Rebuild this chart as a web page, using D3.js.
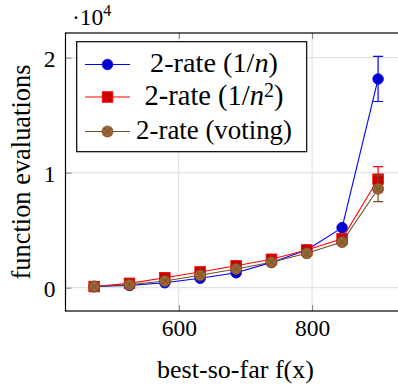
<!DOCTYPE html>
<html><head><meta charset="utf-8">
<script src="https://cdn.jsdelivr.net/npm/d3@7"></script>
<style>body{margin:0;background:#fff}svg{display:block}</style>
</head><body>
<script>
const xValues = [473, 526, 579, 632, 686, 739, 792, 845, 899];
const seriesNames = ["2-rate (1/n)", "2-rate (1/n²)", "2-rate (voting)"];
const blueValues = [100, 200, 430, 820, 1300, 2200, 3280, 5220, 18150];
const redValues = [100, 380, 870, 1370, 1910, 2470, 3280, 4260, 9430];
const brownValues = [100, 260, 580, 1080, 1630, 2210, 2990, 3970, 8610];
const blueErr = [0, 0, 0, 0, 0, 0, 0, 0, 1960];
const redErr = [0, 0, 0, 0, 0, 0, 0, 0, 1090];
const brownErr = [0, 0, 0, 0, 0, 0, 0, 0, 1130];
const xTicks = [600, 800];
const yTicks = [0, 10000, 20000];

const FONT = "Liberation Serif";
const W = 398, H = 385;
const svg = d3.select("body").append("svg").attr("width", W).attr("height", H).attr("font-family", FONT);
const L = 65.5, T = 33, B = 311;
const x = d3.scaleLinear().domain([430, 940]).range([L, L + 510 * (133.3 / 200)]);
const y = d3.scaleLinear().domain([-2026, 22148]).range([B, T]);
const R = x.range()[1];

function fit(t, target) {
  t.attr("font-size", 20);
  const w = t.node().getComputedTextLength();
  t.attr("font-size", 20 * target / w);
}

// grid
const g = svg.append("g");
g.selectAll(".gx").data(xTicks).join("line").attr("x1", d => x(d)).attr("x2", d => x(d))
  .attr("y1", T).attr("y2", B).attr("stroke", "#dcdcdc").attr("stroke-width", 1);
g.selectAll(".gy").data(yTicks).join("line").attr("y1", d => y(d)).attr("y2", d => y(d))
  .attr("x1", L).attr("x2", R).attr("stroke", "#dcdcdc").attr("stroke-width", 1);

// axes via d3
const ax = svg.append("g").attr("transform", `translate(0,${B})`)
  .call(d3.axisBottom(x).tickValues(xTicks).tickSizeInner(-6).tickSizeOuter(0).tickPadding(25).tickFormat(d3.format("d")));
const axT = svg.append("g").attr("transform", `translate(0,${T})`)
  .call(d3.axisTop(x).tickValues(xTicks).tickSizeInner(-6).tickSizeOuter(0).tickFormat(""));
const ay = svg.append("g").attr("transform", `translate(${L},0)`)
  .call(d3.axisLeft(y).tickValues(yTicks).tickSizeInner(-6).tickSizeOuter(0).tickPadding(10).tickFormat(d => d / 10000));
const ayR = svg.append("g").attr("transform", `translate(${R},0)`)
  .call(d3.axisRight(y).tickValues(yTicks).tickSizeInner(-6).tickSizeOuter(0).tickFormat(""));
[ax, axT, ay, ayR].forEach(a => {
  a.attr("font-family", FONT).attr("font-size", 23.5);
  a.select(".domain").remove();
  a.selectAll(".tick line").attr("stroke", "#808080").attr("stroke-width", 1);
  a.selectAll("text").attr("font-family", FONT).attr("font-size", 23.5).attr("fill", "#000");
});
ax.selectAll("text").attr("dy", "0");
ay.selectAll("text").attr("dy", "0.36em");
// frame
svg.append("rect").attr("x", L).attr("y", T).attr("width", R - L).attr("height", B - T)
  .attr("fill", "none").attr("stroke", "#000").attr("stroke-width", 1.2);

// scale label
const sl = svg.append("text").attr("x", 72).attr("y", 25).attr("font-family", FONT).attr("font-size", 23.5);
sl.append("tspan").text("·10");
sl.append("tspan").attr("dy", -9).attr("font-size", 16).text("4");

// axis labels
const xl = svg.append("text").attr("x", 235.5).attr("y", 378).attr("font-family", FONT).attr("text-anchor", "middle").text("best-so-far f(x)");
fit(xl, 157);
const yl = svg.append("text").attr("transform", `translate(30,${(T + B) / 2}) rotate(-90)`).attr("font-family", FONT).attr("text-anchor", "middle").text("function evaluations");
fit(yl, 215);

const series = [
  {vals: blueValues, err: blueErr, stroke: "#0000ff", fill: "#0000cc", mark: "circle"},
  {vals: redValues, err: redErr, stroke: "#ff0000", fill: "#cc0000", mark: "square"},
  {vals: brownValues, err: brownErr, stroke: "#734d26", fill: "#996633", mark: "otimes"}
];
function drawMark(sel, s, cx, cy) {
  if (s.mark === "circle") {
    sel.append("circle").attr("cx", cx).attr("cy", cy).attr("r", 5.3).attr("fill", s.fill).attr("stroke", s.stroke).attr("stroke-width", 0.8);
  } else if (s.mark === "square") {
    sel.append("rect").attr("x", cx - 5.3).attr("y", cy - 5.3).attr("width", 10.6).attr("height", 10.6).attr("fill", s.fill).attr("stroke", s.stroke).attr("stroke-width", 0.8);
  } else {
    const r = 5.5;
    sel.append("circle").attr("cx", cx).attr("cy", cy).attr("r", r).attr("fill", s.fill).attr("stroke", s.stroke).attr("stroke-width", 0.8);
    const k = r * Math.SQRT1_2;
    sel.append("path").attr("d", `M${cx - k},${cy - k}L${cx + k},${cy + k}M${cx - k},${cy + k}L${cx + k},${cy - k}`)
      .attr("stroke", s.stroke).attr("stroke-width", 0.8);
  }
}
const line = d3.line().x((d, i) => x(xValues[i])).y(d => y(d));
series.forEach(s => {
  const sg = svg.append("g");
  sg.append("path").attr("d", line(s.vals)).attr("fill", "none").attr("stroke", s.stroke).attr("stroke-width", 1.1);
  s.vals.forEach((v, i) => {
    const e = s.err[i];
    if (e > 0) {
      const cx = x(xValues[i]);
      sg.append("path").attr("d", `M${cx},${y(v - e)}L${cx},${y(v + e)}M${cx - 5},${y(v - e)}L${cx + 5},${y(v - e)}M${cx - 5},${y(v + e)}L${cx + 5},${y(v + e)}`)
        .attr("stroke", s.stroke).attr("stroke-width", 1.2).attr("fill", "none");
    }
  });
  s.vals.forEach((v, i) => drawMark(sg, s, x(xValues[i]), y(v)));
});

// legend
const lg = svg.append("g");
lg.append("rect").attr("x", 76.7).attr("y", 41.7).attr("width", 230).attr("height", 110).attr("fill", "#fff").attr("stroke", "#000").attr("stroke-width", 1.2);
const rowsY = [64.5, 97, 131.5];
const widths = [128, 139, 156];
series.forEach((s, i) => {
  lg.append("line").attr("x1", 85).attr("x2", 130).attr("y1", rowsY[i]).attr("y2", rowsY[i]).attr("stroke", s.stroke).attr("stroke-width", 1.1);
  drawMark(lg, s, 107.5, rowsY[i]);
  const t = lg.append("text").attr("x", 214).attr("y", rowsY[i] + 7.5).attr("font-family", FONT).attr("text-anchor", "middle");
  if (i === 0) { t.append("tspan").text("2-rate (1/"); t.append("tspan").attr("font-style", "italic").text("n"); t.append("tspan").text(")"); }
  else if (i === 1) { t.append("tspan").text("2-rate (1/"); t.append("tspan").attr("font-style", "italic").text("n"); t.append("tspan").attr("dy", "-0.4em").attr("font-size", "0.7em").text("2"); t.append("tspan").attr("dy", "0.28em").text(")"); }
  else { t.text(seriesNames[2]); }
  fit(t, widths[i]);
});
</script>
</body></html>
